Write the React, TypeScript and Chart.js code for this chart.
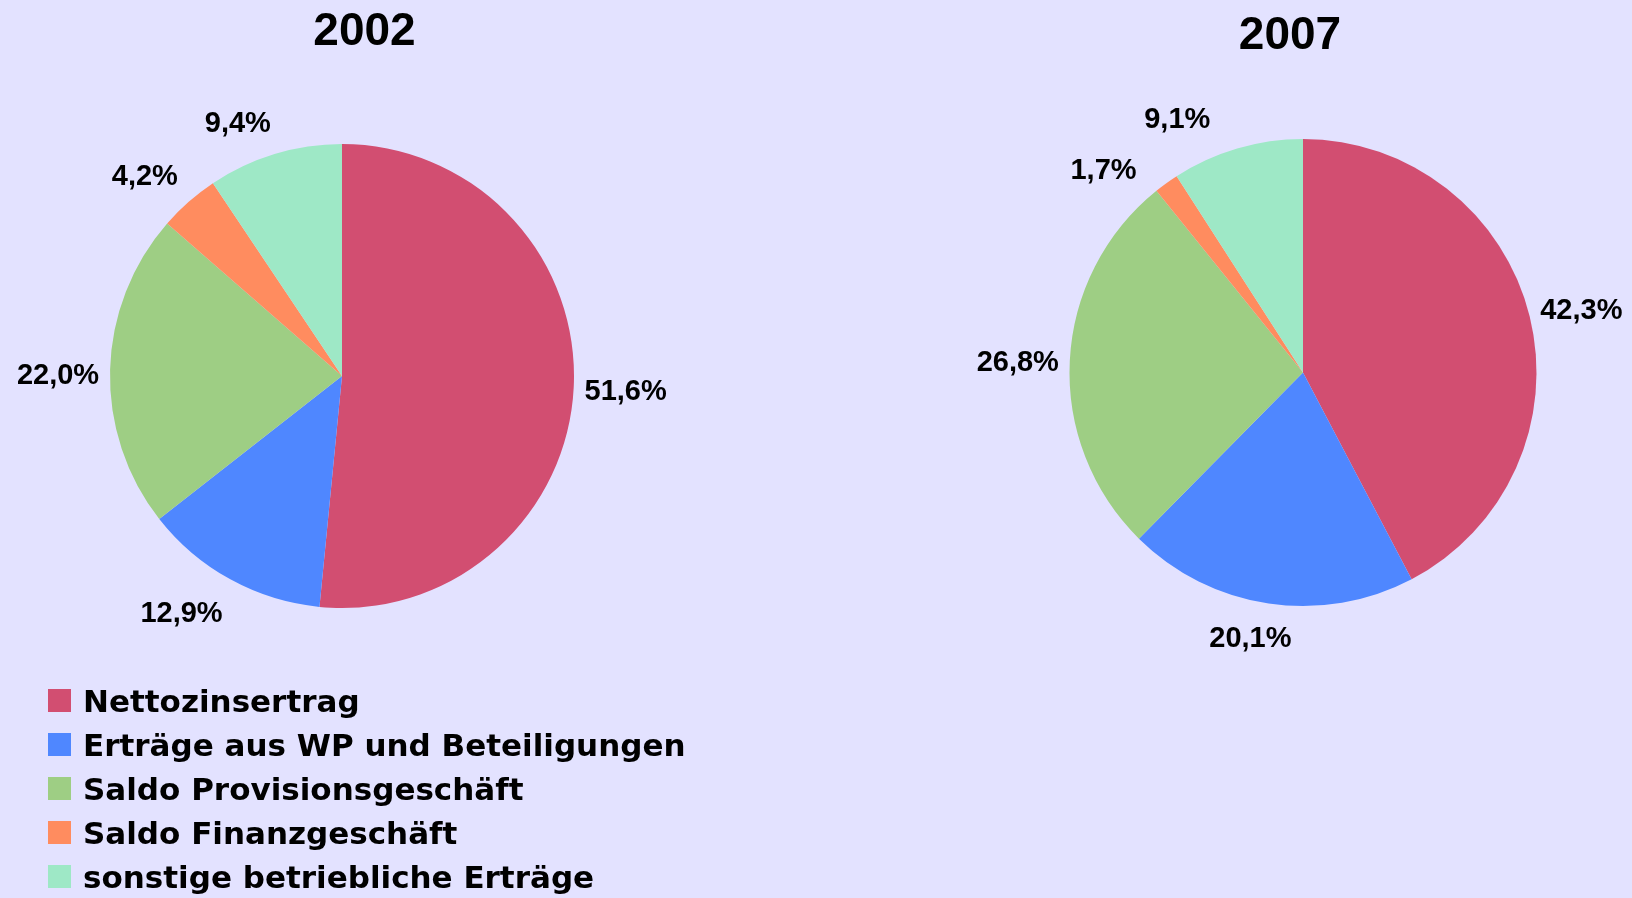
import React, { useEffect, useRef } from "react";
import { Chart, registerables } from "chart.js";

Chart.register(...registerables);

const categories = [
  "Nettozinsertrag",
  "Erträge aus WP und Beteiligungen",
  "Saldo Provisionsgeschäft",
  "Saldo Finanzgeschäft",
  "sonstige betriebliche Erträge",
];
const years = ["2002", "2007"];
const values2002 = [51.6, 12.9, 22.0, 4.2, 9.4];
const values2007 = [42.3, 20.1, 26.8, 1.7, 9.1];
const colors = ["#D24E71", "#4F87FF", "#9ECE84", "#FF8C5F", "#9EE8C6"];

const BG = "#E3E2FF";
const LABEL_FONT = '"Liberation Sans", Arial, sans-serif';
const LEGEND_FONT = '"DejaVu Sans", Verdana, sans-serif';

const fmt = (v: number) => v.toFixed(1).replace(".", ",") + "%";

const outLabels = {
  id: "outLabels",
  afterDatasetsDraw(chart: any, _args: any, opts: any) {
    const ctx = chart.ctx;
    const meta = chart.getDatasetMeta(0);
    const data = chart.data.datasets[0].data as number[];
    ctx.save();
    ctx.font = `bold ${opts.size}px ${LABEL_FONT}`;
    ctx.fillStyle = "#000";
    ctx.textAlign = "center";
    ctx.textBaseline = "alphabetic";
    meta.data.forEach((arc: any, i: number) => {
      const { x, y, startAngle, endAngle, outerRadius } = arc.getProps(
        ["x", "y", "startAngle", "endAngle", "outerRadius"],
        true
      );
      const nudge = (opts.nudge && opts.nudge[i]) || 0;
      const dr = (opts.dr && opts.dr[i]) || 0;
      const mid = (startAngle + endAngle) / 2 + (nudge * Math.PI) / 180;
      const d = outerRadius + opts.gap + dr;
      const tx = x + Math.cos(mid) * d;
      const ty = y + Math.sin(mid) * d;
      ctx.fillText(fmt(data[i]), tx, ty + opts.size * 0.358);
    });
    ctx.restore();
  },
};

type PieProps = {
  values: number[];
  left: number;
  padding: { left: number; right: number; top: number; bottom: number };
  nudge: number[];
  dr: number[];
};

function PieChart({ values, left, padding, nudge, dr }: PieProps) {
  const ref = useRef<HTMLCanvasElement | null>(null);
  useEffect(() => {
    if (!ref.current) return;
    const chart = new Chart(ref.current, {
      type: "pie",
      data: {
        labels: categories,
        datasets: [
          {
            data: values,
            backgroundColor: colors,
            borderWidth: 0,
            hoverBorderWidth: 0,
            hoverOffset: 0,
          } as any,
        ],
      },
      options: {
        responsive: false,
        animation: false,
        events: [],
        layout: { padding },
        plugins: {
          legend: { display: false },
          tooltip: { enabled: false },
          outLabels: { gap: 52, size: 29, nudge, dr },
        } as any,
      },
      plugins: [outLabels as any],
    });
    return () => chart.destroy();
  }, []);
  return (
    <canvas
      ref={ref}
      width={816}
      height={898}
      style={{ position: "absolute", left, top: 0, width: 816, height: 898, display: "block" }}
    />
  );
}

export default function App() {
  useEffect(() => {
    document.body.style.margin = "0";
    document.body.style.background = BG;
  }, []);
  const titleStyle: React.CSSProperties = {
    position: "absolute",
    width: 300,
    textAlign: "center",
    fontFamily: LABEL_FONT,
    fontWeight: "bold",
    fontSize: 46,
    lineHeight: "46px",
    color: "#000",
  };
  return (
    <div
      style={{
        position: "absolute",
        left: 0,
        top: 0,
        width: 1632,
        height: 898,
        background: BG,
        overflow: "hidden",
      }}
    >
      <PieChart
        values={values2002}
        left={0}
        padding={{ left: 110, right: 242, top: 144, bottom: 290 }}
        nudge={[0, 5.5, -1, -3, -5.4]}
        dr={[0, 1, 0, -2, -9.5]}
      />
      <PieChart
        values={values2007}
        left={816}
        padding={{ left: 253.5, right: 95.5, top: 139, bottom: 292 }}
        nudge={[1, 2.8, -0.4, -8.5, -9.9]}
        dr={[0, -16, 0, 0, -1.5]}
      />
      <div style={{ ...titleStyle, left: 214.5, top: 6 }}>{years[0]}</div>
      <div style={{ ...titleStyle, left: 1140, top: 10 }}>{years[1]}</div>
      <div style={{ position: "absolute", left: 0, top: 679 }}>
        {categories.map((c, i) => (
          <div
            key={c}
            style={{
              position: "relative",
              height: 44,
              lineHeight: "44px",
              fontFamily: LEGEND_FONT,
              fontWeight: "bold",
              fontSize: 31,
              color: "#000",
              whiteSpace: "nowrap",
            }}
          >
            <span
              style={{
                position: "absolute",
                left: 48,
                top: 10,
                width: 23,
                height: 23,
                background: colors[i],
              }}
            />
            <span style={{ position: "absolute", left: 83, top: 0 }}>{c}</span>
          </div>
        ))}
      </div>
    </div>
  );
}
